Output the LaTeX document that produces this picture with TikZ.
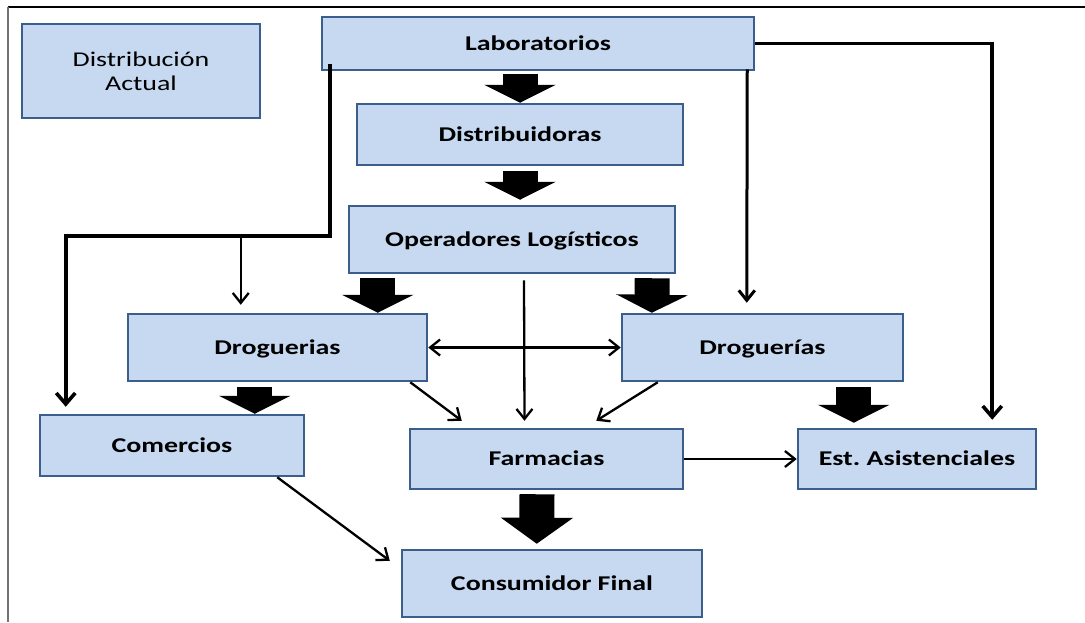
\documentclass[tikz,border=0pt]{standalone}
\usepackage{fontspec}
\setmainfont{Carlito}[FakeStretch=1.33]
\usetikzlibrary{arrows.meta, calc}
\definecolor{relleno}{HTML}{C6D9F0}
\definecolor{borde}{HTML}{3B5E8C}

\begin{document}
\begin{tikzpicture}[
        % 1 pixel de la imagen = 1pt, eje y hacia abajo
        x=1pt, y=-1pt,
        cajabase/.style={rectangle, draw=borde, fill=relleno, line width=2.5pt, align=center, inner sep=0pt},
        caja/.style={cajabase, text height=13.5pt, text depth=0pt, font=\fontsize{21}{24}\selectfont\bfseries},
        flechagrande/.style={-{Triangle[width=71pt, length=#1]}, line width=35pt},
        flechagrande/.default=18pt,
        flecha/.style={>={Straight Barb[length=10pt, width=16pt]}, ->, line width=2.3pt},
        flechagruesa/.style={>={Straight Barb[length=11pt, width=19pt]}, ->, line width=3.6pt}
    ]
    \useasboundingbox (0,0) rectangle (1085,622);

    % Marco
    \draw[line width=1.5pt] (8,7) -- (1085,7);
    \draw[line width=1.8pt, black!55] (8,7) -- (8,622);

    % Nodos
    \node (titulo) [cajabase, minimum width=238pt, minimum height=94pt, font=\fontsize{21}{24}\selectfont] at (141,71) {Distribución\\Actual};

    \node (lab) [caja, minimum width=432pt, minimum height=53pt] at (538,43.5) {Laboratorios};

    \node (dist) [caja, minimum width=326pt, minimum height=61pt] at (520,134.5) {Distribuidoras};

    \node (ops) [caja, minimum width=326pt, minimum height=67pt] at (512,239.5) {Operadores Logísticos};

    \node (drogA) [caja, minimum width=299pt, minimum height=67pt] at (277.5,347.5) {Droguerias};

    \node (drogB) [caja, minimum width=281pt, minimum height=67pt] at (762.5,347.5) {Droguerías};

    \node (com) [caja, minimum width=264pt, minimum height=61pt] at (172,445.5) {Comercios};

    \node (farm) [caja, minimum width=273pt, minimum height=60pt] at (546.5,459) {Farmacias};

    \node (est) [caja, minimum width=238pt, minimum height=60pt] at (917,459) {Est.\ Asistenciales};

    \node (cons) [caja, minimum width=300pt, minimum height=67pt] at (552,583.5) {Consumidor Final};

    % Flechas gruesas
    \draw [flechagrande] ($(dist.north |- lab.south)+(0,3)$) -- (dist.north);
    \draw [flechagrande] ($(dist.south)+(0,5)$) -- ($(dist.south |- ops.north)+(0,-5)$);
    \draw [flechagrande] ($(ops.south west)+(30,4)$) -- ($(drogA.north west)+(251,0)$);
    \draw [flechagrande] ($(ops.south east)+(-24,4)$) -- ($(drogB.north west)+(31,0)$);
    \draw [flechagrande] ($(drogA.south west)+(128,5)$) -- ($(com.north west)+(216,0)$);
    \draw [flechagrande] ($(drogB.south west)+(233,5)$) -- ($(est.north west)+(57,-5)$);
    \draw [flechagrande=26pt] ($(farm.south)+(-9.5,4)$) -- ($(cons.north west)+(136,-5)$);

    % Flechas finas
    \draw [flechagruesa] ($(lab.south west)+(9,-7)$) -- ++(0,172) -| ($(com.north west)+(27,-7)$);
    \draw [flecha] ($(drogA.north west)+(114,-75)$) -- ($(drogA.north west)+(114,-8)$);
    \draw [flecha, line width=3pt] ($(lab.south east)+(-8,-2)$) -- ($(drogB.north west)+(126,-10)$);
    \draw [flechagruesa] (lab.east) -| ($(est.north east)+(-45,-8)$);
    \draw [flecha] ($(ops.south)+(12,6)$) -- ($(farm.north)+(-22,-7)$);
    \draw [flecha, <->] (drogA.east) -- (drogB.west);
    \draw [flecha] ($(drogA.south east)+(-18,0)$) -- ($(farm.north west)+(53,-7)$);
    \draw [flecha] ($(drogB.south west)+(37,0)$) -- ($(farm.north east)+(-88,-7)$);
    \draw [flecha] (farm.east) -- (est.west);
    \draw [flecha] ($(com.south east)+(-28,0)$) -- ($(cons.north west)+(-11,12)$);

\end{tikzpicture}
\end{document}
